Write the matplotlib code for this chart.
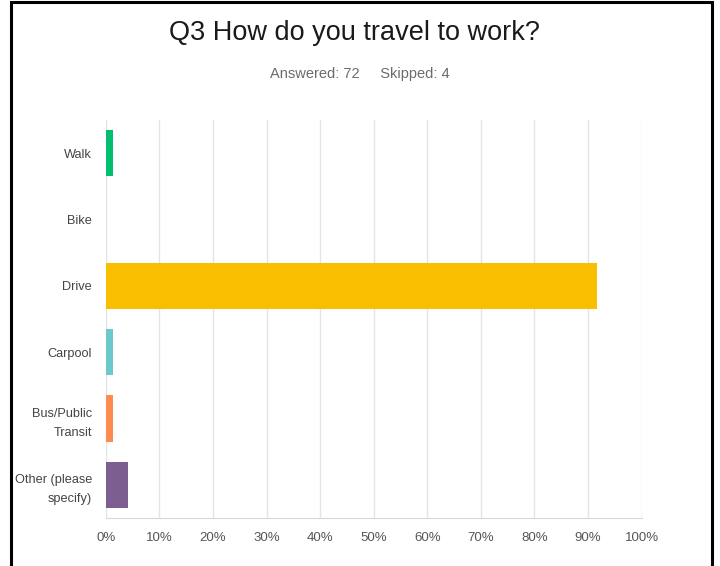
import matplotlib
matplotlib.use("Agg")
from matplotlib import pyplot as plt
from matplotlib.patches import Rectangle
import numpy as np

# survey answers (share of 72 respondents)
options = ["Walk", "Bike", "Drive", "Carpool", "Bus/Public\nTransit", "Other (please\nspecify)"]
counts = [1, 0, 66, 1, 1, 3]
answered = 72
skipped = 4
colors = ["#00BF6F", "#507CB6", "#F9BE00", "#6BC8CD", "#FF8B4F", "#7D5E90"]
ticks = list(range(0, 101, 10))

plt.rcParams['font.family'] = ['Liberation Sans', 'DejaVu Sans']

def main():
    pct = np.array(counts) / answered * 100
    fig = plt.figure(figsize=(7.2, 5.66), dpi=100)
    ax = fig.add_axes([0.147, 0.085, 0.744, 0.703])

    y = np.arange(len(options))
    ax.barh(y, pct, height=0.7, color=colors, zorder=3)
    ax.set_ylim(len(options) - 0.5, -0.5)
    ax.set_xlim(0, 100)
    ax.set_xticks(ticks)
    ax.set_xticklabels([f"{t}%" for t in ticks], color="#555555", fontsize=9.5)
    ax.set_yticks(y)
    ax.set_yticklabels(options, color="#444444", fontsize=9.2, linespacing=1.75)
    ax.tick_params(length=0, pad=10)
    ax.tick_params(axis="x", pad=10)
    ax.grid(axis="x", color="#e4e4e4", linewidth=1, zorder=0)
    for s in ["top", "right", "left"]:
        ax.spines[s].set_visible(False)
    ax.spines["bottom"].set_color("#d8d8d8")

    fig.text(0.492, 0.941, "Q3 How do you travel to work?", ha="center", va="center",
             fontsize=19.5, color="#1a1a1a")
    fig.text(0.5, 0.869, f"Answered: {answered}     Skipped: {skipped}", ha="center",
             va="center", fontsize=10.5, color="#6b6b6b")

    # frame around the panel
    fig.patches.append(Rectangle((11 / 720, -0.05), 701 / 720, 1.046, transform=fig.transFigure,
                                 fill=False, edgecolor="black", linewidth=2.2))

    plt.savefig("out.png", dpi=100)

if __name__ == "__main__":
    main()
